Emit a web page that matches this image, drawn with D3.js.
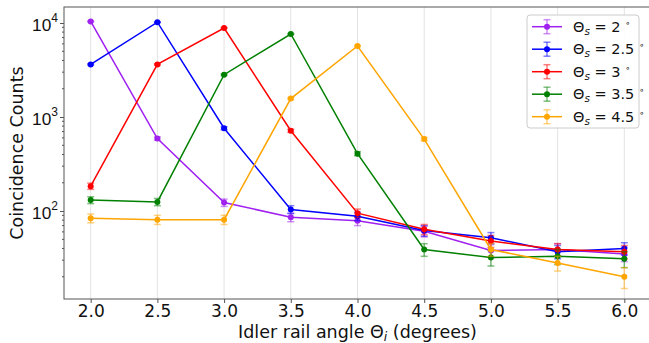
<!DOCTYPE html>
<html>
<head>
<meta charset="utf-8">
<script src="https://cdn.jsdelivr.net/npm/d3@7"></script>
<style>
  body { margin: 0; background: #fff; }
  svg { font-family: "DejaVu Sans", sans-serif; }
</style>
</head>
<body>
<div id="chart"></div>
<script>
// Data
const angles = [2.0, 2.5, 3.0, 3.5, 4.0, 4.5, 5.0, 5.5, 6.0];
const seriesLabels = ["2", "2.5", "3", "3.5", "4.5"];
const seriesColors = ["#a020f0", "#0000ff", "#ff0000", "#008000", "#ffa500"];

const counts2 = [10400, 590, 123, 86, 79, 61, 38, 39, 35];
const counts25 = [3630, 10200, 760, 104, 88, 62, 52, 37, 40];
const counts3 = [184, 3630, 8850, 714, 95, 64, 48, 39, 37];
const counts35 = [131, 125, 2820, 7640, 408, 39, 32, 33, 31];
const counts45 = [84, 81, 81, 1570, 5690, 583, 39, 28, 20];

const err2 = [100, 24, 11, 9, 9, 8, 6, 6, 6];
const err25 = [60, 100, 28, 10, 9, 8, 7, 6, 6];
const err3 = [14, 60, 94, 27, 10, 8, 7, 6, 6];
const err35 = [11, 11, 53, 87, 20, 6, 6, 6, 6];
const err45 = [9, 9, 9, 40, 75, 24, 6, 5, 5];

const xTicks = [2.0, 2.5, 3.0, 3.5, 4.0, 4.5, 5.0, 5.5, 6.0];
const yMajor = [100, 1000, 10000];

const allCounts = [counts2, counts25, counts3, counts35, counts45];
const allErr = [err2, err25, err3, err35, err45];

const width = 649, height = 343;
const margin = { top: 7, right: -2, bottom: 44, left: 64 };
const innerW = width - margin.left - margin.right;
const innerH = height - margin.top - margin.bottom;

const svg = d3.select("#chart").append("svg")
  .attr("width", width)
  .attr("height", height);

const x = d3.scaleLinear().domain([1.8, 6.2]).range([0, innerW]);
const y = d3.scaleLog().domain([11.6, 14800]).range([innerH, 0]);

const g = svg.append("g")
  .attr("transform", `translate(${margin.left},${margin.top})`);

// vertical grid
g.append("g").selectAll("line")
  .data(xTicks)
  .join("line")
  .attr("x1", d => x(d)).attr("x2", d => x(d))
  .attr("y1", 0).attr("y2", innerH)
  .attr("stroke", "#e3e3e3")
  .attr("stroke-width", 1);

// series
const series = seriesLabels.map((lab, i) => ({
  label: lab,
  color: seriesColors[i],
  points: angles.map((a, j) => ({ x: a, v: allCounts[i][j], e: allErr[i][j] }))
}));

const line = d3.line().x(d => x(d.x)).y(d => y(d.v));

series.forEach(s => {
  const sg = g.append("g");
  // error bars
  const eb = sg.append("g").attr("stroke", s.color).attr("stroke-opacity", 0.5).attr("stroke-width", 1.5);
  s.points.forEach(p => {
    const y1 = y(p.v + p.e), y2 = y(Math.max(p.v - p.e, 1));
    eb.append("line").attr("x1", x(p.x)).attr("x2", x(p.x)).attr("y1", y1).attr("y2", y2);
    eb.append("line").attr("x1", x(p.x) - 3.5).attr("x2", x(p.x) + 3.5).attr("y1", y1).attr("y2", y1);
    eb.append("line").attr("x1", x(p.x) - 3.5).attr("x2", x(p.x) + 3.5).attr("y1", y2).attr("y2", y2);
  });
  sg.append("path")
    .datum(s.points)
    .attr("fill", "none")
    .attr("stroke", s.color)
    .attr("stroke-width", 1.5)
    .attr("d", line);
  sg.selectAll("circle")
    .data(s.points)
    .join("circle")
    .attr("cx", d => x(d.x))
    .attr("cy", d => y(d.v))
    .attr("r", 3)
    .attr("fill", s.color);
});

// frame
g.append("rect")
  .attr("x", 0).attr("y", 0)
  .attr("width", innerW).attr("height", innerH)
  .attr("fill", "none")
  .attr("stroke", "#555")
  .attr("stroke-width", 1);

// x axis
const xAxis = g.append("g")
  .attr("transform", `translate(0,${innerH})`)
  .call(d3.axisBottom(x).tickValues(xTicks).tickFormat(d3.format(".1f")).tickSize(4));
xAxis.select(".domain").remove();
xAxis.selectAll(".tick line").attr("stroke", "#555");
xAxis.selectAll(".tick text")
  .attr("font-size", 17)
  .attr("font-family", "DejaVu Sans")
  .attr("fill", "#111")
  .attr("y", 6);

// y minor ticks
const yMinor = [];
[10, 100, 1000, 10000].forEach(b => {
  for (let k = 2; k <= 9; k++) {
    const v = b * k;
    if (v > 11.6 && v < 14800) yMinor.push(v);
  }
});
g.append("g").selectAll("line")
  .data(yMinor)
  .join("line")
  .attr("x1", -2).attr("x2", 0)
  .attr("y1", d => y(d)).attr("y2", d => y(d))
  .attr("stroke", "#555");

// y axis major
const yAxis = g.append("g")
  .call(d3.axisLeft(y).tickValues(yMajor).tickFormat("").tickSize(4));
yAxis.select(".domain").remove();
yAxis.selectAll(".tick line").attr("stroke", "#555");
yAxis.selectAll(".tick").each(function (d) {
  const t = d3.select(this).append("text")
    .attr("x", -6)
    .attr("dy", "0.45em")
    .attr("text-anchor", "end")
    .attr("font-size", 17.3)
    .attr("fill", "#111");
  t.append("tspan").text("10");
  t.append("tspan").attr("font-size", 12).attr("dy", "-0.75em").text(Math.round(Math.log10(d)));
});

// axis titles
const xt = svg.append("text")
  .attr("x", margin.left + x(4.0))
  .attr("y", 338)
  .attr("text-anchor", "middle")
  .attr("font-size", 17.5)
  .attr("fill", "#111");
xt.append("tspan").text("Idler rail angle Θ");
xt.append("tspan").attr("font-size", 12.5).attr("font-style", "italic").attr("dy", 3).text("i");
xt.append("tspan").attr("dy", -3).text(" (degrees)");

svg.append("text")
  .attr("transform", `translate(23,153) rotate(-90)`)
  .attr("text-anchor", "middle")
  .attr("font-size", 17.5)
  .attr("fill", "#111")
  .text("Coincidence Counts");

// legend
const lg = svg.append("g").attr("transform", "translate(527,15)");
lg.append("rect")
  .attr("width", 112).attr("height", 113)
  .attr("rx", 3)
  .attr("fill", "#fff").attr("fill-opacity", 0.85)
  .attr("stroke", "#ccc");

const item = lg.selectAll(".legend")
  .data(series)
  .join("g")
  .attr("class", "legend")
  .attr("transform", (d, i) => `translate(0,${11.7 + i * 22.5})`);

item.append("line")
  .attr("x1", 5).attr("x2", 35)
  .attr("stroke", d => d.color).attr("stroke-width", 1.5);
item.append("line")
  .attr("x1", 20).attr("x2", 20).attr("y1", -7).attr("y2", 7)
  .attr("stroke", d => d.color).attr("stroke-opacity", 0.5).attr("stroke-width", 1.5);
item.append("line")
  .attr("x1", 16.5).attr("x2", 23.5).attr("y1", -7).attr("y2", -7)
  .attr("stroke", d => d.color).attr("stroke-opacity", 0.5).attr("stroke-width", 1.5);
item.append("line")
  .attr("x1", 16.5).attr("x2", 23.5).attr("y1", 7).attr("y2", 7)
  .attr("stroke", d => d.color).attr("stroke-opacity", 0.5).attr("stroke-width", 1.5);
item.append("circle").attr("cx", 20).attr("r", 3).attr("fill", d => d.color);

const lt = item.append("text")
  .attr("x", 46)
  .attr("y", 5)
  .attr("font-size", 14.5)
  .attr("fill", "#111");
lt.append("tspan").text("Θ");
lt.append("tspan").attr("font-size", 10.5).attr("font-style", "italic").attr("dy", 3).text("s");
lt.append("tspan").attr("dy", -3).text(d => " = " + d.label + " ");
lt.append("tspan").attr("font-size", 9).attr("dy", -6).text("∘");
</script>
</body>
</html>
